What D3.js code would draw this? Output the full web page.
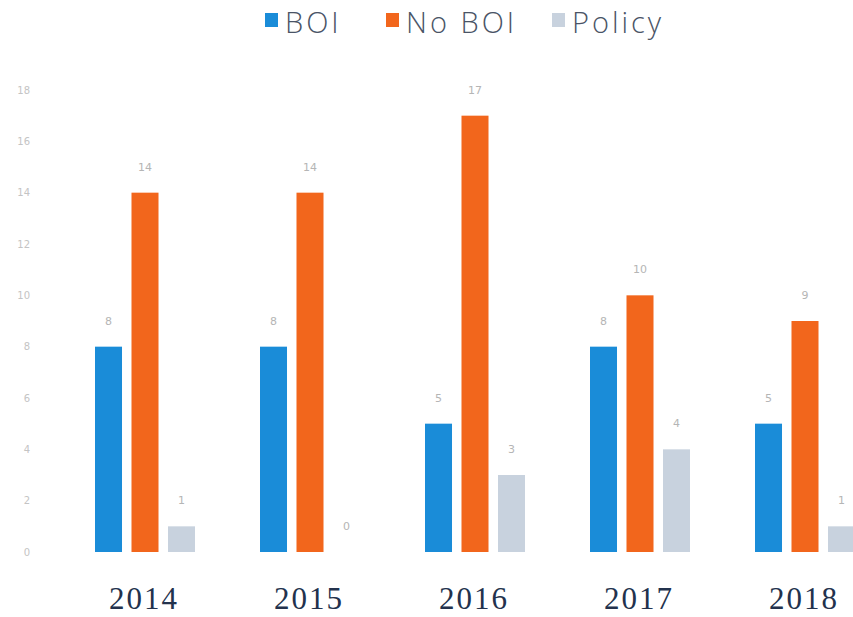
<!DOCTYPE html>
<html>
<head>
<meta charset="utf-8">
<script src="https://cdn.jsdelivr.net/npm/d3@7"></script>
<style>
  body { margin: 0; background: #fff; }
  svg { display: block; }
</style>
</head>
<body>
<svg id="chart" width="853" height="617"></svg>
<script>
// data
var years = ["2014", "2015", "2016", "2017", "2018"];
var seriesNames = ["BOI", "No BOI", "Policy"];
var boi = [8, 8, 5, 8, 5];
var noBoi = [14, 14, 17, 10, 9];
var policy = [1, 0, 3, 4, 1];
var yTicks = [0, 2, 4, 6, 8, 10, 12, 14, 16, 18];

var colors = ["#1a8cd8", "#f2661c", "#c8d2de"];

var svg = d3.select("#chart");

var rows = years.map(function(y, i) {
    return {year: y, values: [boi[i], noBoi[i], policy[i]]};
});

var x0 = d3.scaleBand()
    .domain(years)
    .range([61.5, 886.5])
    .padding(0);

var x1 = d3.scaleBand()
    .domain(d3.range(seriesNames.length))
    .range([0, 100])
    .paddingInner(0.26)
    .paddingOuter(0);

var y = d3.scaleLinear()
    .domain([0, 18])
    .range([552, 90]);

// faint y tick labels, no axis line
var yAxis = svg.append("g")
    .attr("transform", "translate(30,0)")
    .call(d3.axisLeft(y).tickValues(yTicks).tickSize(0).tickPadding(0));
yAxis.select(".domain").remove();
yAxis.selectAll("text")
    .attr("fill", "#c4c4c4")
    .style("font-family", "'DejaVu Sans', sans-serif")
    .style("font-size", "10px");

var groups = svg.append("g").selectAll("g")
    .data(rows)
    .enter().append("g")
    .attr("transform", function(d) {
        return "translate(" + (x0(d.year) + x0.bandwidth() / 2 - 49) + ",0)";
    });

groups.selectAll("rect")
    .data(function(d) { return d.values; })
    .enter().append("rect")
    .attr("x", function(d, i) { return x1(i); })
    .attr("y", function(d) { return y(d); })
    .attr("width", x1.bandwidth())
    .attr("height", function(d) { return y(0) - y(d); })
    .attr("fill", function(d, i) { return colors[i]; });

groups.selectAll("text.val")
    .data(function(d) { return d.values; })
    .enter().append("text")
    .attr("class", "val")
    .attr("x", function(d, i) { return x1(i) + x1.bandwidth() / 2; })
    .attr("y", function(d) { return y(d) - 22; })
    .attr("text-anchor", "middle")
    .attr("fill", "#b5b5b5")
    .style("font-family", "'DejaVu Sans', sans-serif")
    .style("font-size", "11px")
    .text(function(d) { return d; });

// year labels
svg.append("g").selectAll("text")
    .data(years)
    .enter().append("text")
    .attr("x", function(d) { return x0(d) + x0.bandwidth() / 2; })
    .attr("y", 609)
    .attr("text-anchor", "middle")
    .attr("fill", "#23324d")
    .style("font-family", "'Liberation Serif', serif")
    .style("font-size", "31px")
    .style("letter-spacing", "2px")
    .text(function(d) { return d; });

// legend
var legendX = [265, 386, 552];
var legend = svg.append("g").selectAll("g")
    .data(seriesNames)
    .enter().append("g")
    .attr("transform", function(d, i) { return "translate(" + legendX[i] + ",13)"; });

legend.append("rect")
    .attr("width", 13)
    .attr("height", 14)
    .attr("fill", function(d, i) { return colors[i]; });

legend.append("text")
    .attr("x", 20)
    .attr("y", 20)
    .attr("fill", "#4a5466")
    .style("font-family", "'Open Sans', sans-serif")
    .style("font-size", "29px")
    .style("font-weight", "300")
    .style("letter-spacing", "3px")
    .text(function(d) { return d; });
</script>
</body>
</html>
